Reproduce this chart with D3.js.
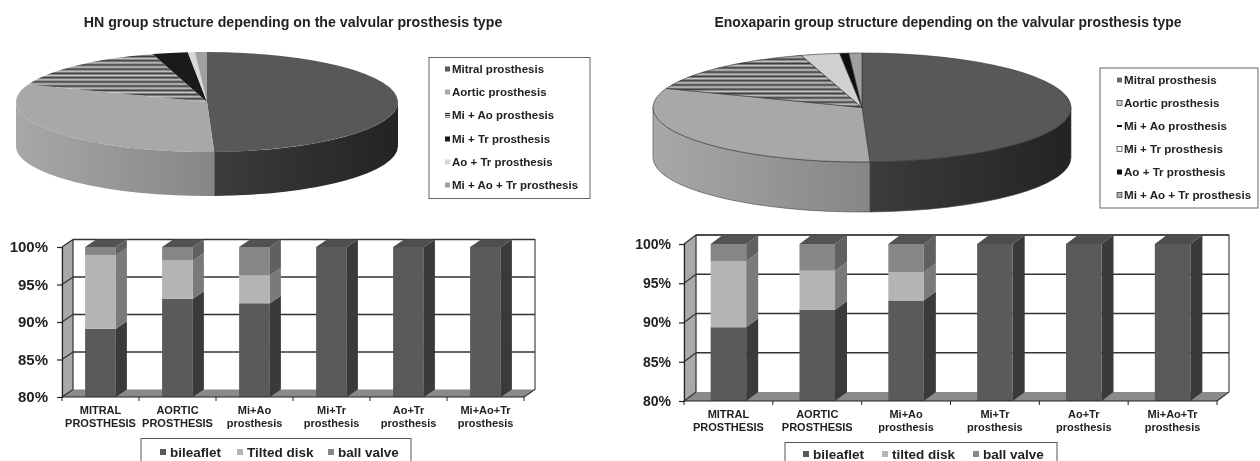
<!DOCTYPE html>
<html><head><meta charset="utf-8">
<script src="https://cdn.jsdelivr.net/npm/d3@7/dist/d3.min.js"></script>
<style>
html,body{margin:0;padding:0;background:#fff;overflow:hidden}
svg{display:block;filter:blur(0.45px)}
text{font-family:"Liberation Sans",Arial,sans-serif;font-weight:bold;fill:#222}
</style></head><body>
<svg id="c" width="1260" height="461"></svg>
<script>
const pieLabels = ["Mitral prosthesis","Aortic prosthesis","Mi + Ao prosthesis","Mi + Tr prosthesis","Ao + Tr prosthesis","Mi + Ao + Tr prosthesis"];
const hnPieValues = [49.4,31.3,14.7,3,0.6,1];
const enoxPieValues = [49.4,31.3,14.6,3,0.7,1];
const hnPieColors = ["#585858","#a8a8a8","url(#stripes)","#1a1a1a","#d8d8d8","#a0a0a0"];
const enoxPieColors = ["#585858","#a8a8a8","url(#stripes)","#d0d0d0","#0d0d0d","#a0a0a0"];
const hnSwatches = ["#585858","#a8a8a8","url(#swstripes)","#1a1a1a","#d8d8d8","#a0a0a0"];
const enoxSwatches = ["#6a6a6a","#d0d0d0","#111","#fff","#0d0d0d","#b0b0b0"];
const hnSwatchBorders = [0,0,0,0,0,0];
const enoxSwatchBorders = [0,1,0,1,0,1];
const categories = [["MITRAL","PROSTHESIS"],["AORTIC","PROSTHESIS"],["Mi+Ao","prosthesis"],["Mi+Tr","prosthesis"],["Ao+Tr","prosthesis"],["Mi+Ao+Tr","prosthesis"]];
const yTicks = [80,85,90,95,100];
const hnBileaflet = [89.1,93.1,92.5,100,100,100];
const hnTilted = [9.8,5.1,3.7,0,0,0];
const hnBall = [1.1,1.8,3.8,0,0,0];
const enoxBileaflet = [89.4,91.6,92.8,100,100,100];
const enoxTilted = [8.4,5,3.6,0,0,0];
const enoxBall = [2.2,3.4,3.6,0,0,0];
const hnBarLegend = ["bileaflet","Tilted disk","ball valve"];
const enoxBarLegend = ["bileaflet","tilted disk","ball valve"];
const barFront = ["#5a5a5a","#b4b4b4","#868686"];
const barSide = ["#3a3a3a","#7a7a7a","#606060"];
const barTop = ["#4e4e4e","#8e8e8e","#525252"];

const svg = d3.select("#c");
const defs = svg.append("defs");
const pat = defs.append("pattern").attr("id","stripes").attr("patternUnits","userSpaceOnUse").attr("width",8).attr("height",5);
pat.append("rect").attr("width",8).attr("height",5).attr("fill","#c8c8c8");
pat.append("rect").attr("width",8).attr("height",2).attr("fill","#181818");
const pat2 = defs.append("pattern").attr("id","swstripes").attr("patternUnits","userSpaceOnUse").attr("width",6).attr("height",2);
pat2.append("rect").attr("width",6).attr("height",2).attr("fill","#ddd");
pat2.append("rect").attr("width",6).attr("height",1).attr("fill","#222");

function grad(id,x1,x2,c1,c2){
  const g=defs.append("linearGradient").attr("id",id).attr("gradientUnits","userSpaceOnUse")
    .attr("x1",x1).attr("x2",x2).attr("y1",0).attr("y2",0);
  g.append("stop").attr("offset",0).attr("stop-color",c1);
  g.append("stop").attr("offset",1).attr("stop-color",c2);
}

function drawPie(o){
  const g=svg.append("g");
  const arcs=d3.pie().sort(null)(o.values);
  const pt=(a,dy)=>[o.cx+o.rx*Math.sin(a), o.cy-o.ry*Math.cos(a)+dy];
  const bx=pt(arcs[0].endAngle,0)[0];
  grad(o.id+"r",bx,o.cx+o.rx,"#3c3c3c","#232323");
  grad(o.id+"l",o.cx-o.rx,bx,"#a8a8a8","#868686");
  const wallFills=["url(#"+o.id+"r)","url(#"+o.id+"l)"];
  g.selectAll("path.wall").data(arcs.slice(0,2)).join("path").attr("class","wall")
    .attr("d",d=>{
      const a0=Math.max(d.startAngle,Math.PI/2),a1=Math.min(d.endAngle,Math.PI*1.5);
      const p0=pt(a0,0),p1=pt(a1,0),q1=pt(a1,o.depth),q0=pt(a0,o.depth);
      return `M${p0}A${o.rx},${o.ry} 0 0 1 ${p1}L${q1}A${o.rx},${o.ry} 0 0 0 ${q0}Z`;
    })
    .attr("fill",(d,i)=>wallFills[i])
    .attr("stroke",o.outline?"#444":"none").attr("stroke-width",0.6);
  const arc=d3.arc().innerRadius(0).outerRadius(o.rx);
  g.append("g").attr("transform",`translate(${o.cx},${o.cy}) scale(1,${o.ry/o.rx})`)
    .selectAll("path").data(arcs).join("path").attr("d",arc)
    .attr("fill",(d,i)=>o.colors[i])
    .attr("stroke",o.outline?"#333":"none").attr("stroke-width",0.6)
    .attr("vector-effect","non-scaling-stroke");
}

function drawPieLegend(o){
  const g=svg.append("g");
  g.append("rect").attr("x",o.x).attr("y",o.y).attr("width",o.w).attr("height",o.h)
    .attr("fill","#fff").attr("stroke","#666").attr("stroke-width",1);
  const it=g.selectAll("g").data(pieLabels).join("g").attr("transform",(d,i)=>`translate(${o.tx},${o.ys[i]})`);
  it.append("rect").attr("x",-7).attr("y",(d,i)=>o.dash===i?-1:-2.5).attr("width",5).attr("height",(d,i)=>o.dash===i?2:5)
    .attr("fill",(d,i)=>o.swatch[i]).attr("stroke",(d,i)=>o.borders[i]?"#333":"none").attr("stroke-width",0.7);
  it.append("text").attr("y",4).attr("font-size",o.fs).text(d=>d);
}

function drawBars(o){
  const g=svg.append("g");
  const x=d3.scaleBand().domain(d3.range(6)).range([o.x0,o.x1]).paddingInner(0.6).paddingOuter(0.3);
  const y=d3.scaleLinear().domain([80,100]).range([o.yb,o.yt]);
  const dx=o.dx,dy=o.dy,step=x.step();
  g.append("rect").attr("x",o.x0+dx).attr("y",o.yt-dy).attr("width",o.x1-o.x0).attr("height",o.yb-o.yt).attr("fill","#fff");
  g.append("path").attr("d",`M${o.x0},${o.yb}L${o.x0+dx},${o.yb-dy}L${o.x0+dx},${o.yt-dy}L${o.x0},${o.yt}Z`).attr("fill","#a9a9a9").attr("stroke","#777").attr("stroke-width",0.5);
  g.append("path").attr("d",`M${o.x0},${o.yb}L${o.x0+dx},${o.yb-dy}L${o.x1+dx},${o.yb-dy}L${o.x1},${o.yb}Z`).attr("fill","#8a8a8a");
  g.selectAll("line.gr").data(yTicks.filter(t=>t>80)).join("line").attr("class","gr")
    .attr("x1",o.x0+dx).attr("x2",o.x1+dx).attr("y1",d=>y(d)-dy).attr("y2",d=>y(d)-dy)
    .attr("stroke","#333").attr("stroke-width",1.4);
  g.selectAll("line.gs").data(yTicks).join("line").attr("class","gs")
    .attr("x1",o.x0).attr("x2",o.x0+dx).attr("y1",d=>y(d)).attr("y2",d=>y(d)-dy)
    .attr("stroke","#333").attr("stroke-width",1.2);
  g.append("path").attr("d",`M${o.x1},${o.yb}L${o.x1+dx},${o.yb-dy}L${o.x1+dx},${o.yt-dy}L${o.x0+dx},${o.yt-dy}L${o.x0+dx},${o.yb-dy}`)
    .attr("fill","none").attr("stroke","#333").attr("stroke-width",1.1);
  const stack=o.series;
  categories.forEach((c,i)=>{
    let base=80;
    const bx=x(i),bw=x.bandwidth();
    stack.forEach((vals,s)=>{
      const v=vals[i]; if(!v) return;
      const lo=(s===0)?80:base, hi=(s===0)?v:base+v; base=hi;
      const yl=y(lo),yh=y(hi);
      g.append("path").attr("d",`M${bx+bw},${yl}L${bx+bw+dx},${yl-dy}L${bx+bw+dx},${yh-dy}L${bx+bw},${yh}Z`).attr("fill",barSide[s]);
      g.append("rect").attr("x",bx).attr("y",yh).attr("width",bw).attr("height",yl-yh).attr("fill",barFront[s]);
      if(hi>=99.95){
        g.append("path").attr("d",`M${bx},${yh}L${bx+dx},${yh-dy}L${bx+bw+dx},${yh-dy}L${bx+bw},${yh}Z`).attr("fill",barTop[s]);
      }
    });
  });
  const ax=g.append("g").attr("transform",`translate(${o.x0},0)`)
    .call(d3.axisLeft(y).tickValues(yTicks).tickFormat(d=>d+"%").tickSize(5).tickPadding(o.tickPad));
  ax.select(".domain").attr("stroke","#222").attr("stroke-width",1.2);
  ax.selectAll(".tick line").attr("stroke","#222").attr("stroke-width",1.2);
  ax.selectAll("text").attr("font-size",o.yfs).attr("font-family",'"Liberation Sans",Arial,sans-serif').attr("font-weight","bold").attr("fill","#222");
  g.append("line").attr("x1",o.x0).attr("x2",o.x1).attr("y1",o.yb).attr("y2",o.yb).attr("stroke","#222").attr("stroke-width",1.2);
  g.selectAll("line.xt").data(d3.range(7)).join("line").attr("class","xt")
    .attr("x1",d=>o.x0+d*step).attr("x2",d=>o.x0+d*step).attr("y1",o.yb).attr("y2",o.yb+4)
    .attr("stroke","#222").attr("stroke-width",1);
  const lab=g.selectAll("text.cat").data(categories).join("text").attr("class","cat")
    .attr("text-anchor","middle").attr("font-size",o.cfs).attr("fill","#333");
  lab.selectAll("tspan").data(d=>d).join("tspan")
    .attr("x",function(){return x(categories.indexOf(d3.select(this.parentNode).datum()))+x.bandwidth()/2;})
    .attr("y",(d,i)=>o.catY+i*13).text(d=>d);
  const l=o.legend;
  g.append("rect").attr("x",l.x).attr("y",l.y).attr("width",l.w).attr("height",60).attr("fill","#fff").attr("stroke","#555").attr("stroke-width",1);
  const it=g.selectAll("g.li").data(l.labels).join("g").attr("class","li").attr("transform",(d,i)=>`translate(${l.tx[i]},${l.iy})`);
  it.append("rect").attr("x",-10).attr("y",-3).attr("width",6).attr("height",6).attr("fill",(d,i)=>barFront[i]);
  it.append("text").attr("y",4.5).attr("font-size",l.fs).text(d=>d);
}

svg.append("text").attr("x",293).attr("y",27).attr("text-anchor","middle").attr("font-size",14.2).text("HN group structure depending on the valvular prosthesis type");
svg.append("text").attr("x",948).attr("y",27).attr("text-anchor","middle").attr("font-size",13.95).text("Enoxaparin group structure depending on the valvular prosthesis type");

drawPie({id:"p1",cx:207,cy:102,rx:191,ry:50,depth:44,values:hnPieValues,colors:hnPieColors,outline:false});
drawPie({id:"p2",cx:862,cy:107.5,rx:209,ry:54.5,depth:50,values:enoxPieValues,colors:enoxPieColors,outline:true});

drawPieLegend({x:429,y:57.5,w:161,h:141,tx:452,ys:[69,92,115,139,162,185],fs:11.5,swatch:hnSwatches,borders:hnSwatchBorders,dash:-1});
drawPieLegend({x:1100,y:68,w:158,h:140,tx:1124,ys:[80,103,126,149,172,195],fs:11.6,swatch:enoxSwatches,borders:enoxSwatchBorders,dash:2});

drawBars({x0:62,x1:524,yt:247,yb:397,dx:11,dy:7.5,tickPad:9,yfs:15,cfs:11,catY:414,
  series:[hnBileaflet,hnTilted,hnBall],
  legend:{x:141,y:438.5,w:270,labels:hnBarLegend,tx:[170,247,338],iy:452,fs:13.5}});
drawBars({x0:684,x1:1217,yt:244,yb:401,dx:12,dy:9,tickPad:8,yfs:14,cfs:11,catY:418,
  series:[enoxBileaflet,enoxTilted,enoxBall],
  legend:{x:785,y:442.5,w:272,labels:enoxBarLegend,tx:[813,892,983],iy:454,fs:13.5}});
</script></body></html>
